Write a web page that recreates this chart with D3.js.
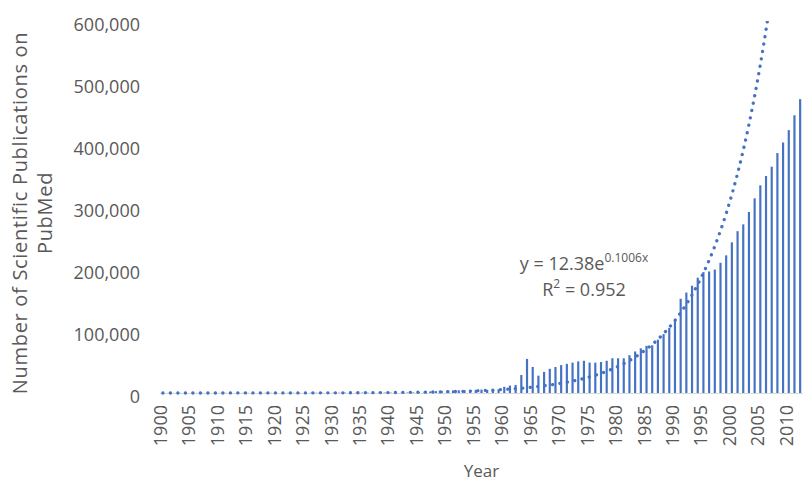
<!DOCTYPE html>
<html>
<head>
<meta charset="utf-8">
<script src="https://cdn.jsdelivr.net/npm/d3@7"></script>
<style>
  body { margin: 0; background: #fff; }
  text { font-family: "Open Sans", sans-serif; fill: #595959; }
</style>
</head>
<body>
<div class="chart"></div>
<script>
// years 1900..2012
var years = d3.range(1900, 2013);

// publications per year
var counts = [
  // 1900-1909
  120, 130, 140, 150, 160, 170, 180, 190, 200, 210,
  // 1910-1919
  220, 230, 240, 250, 240, 230, 220, 230, 240, 260,
  // 1920-1929
  280, 300, 320, 340, 360, 380, 400, 420, 440, 460,
  // 1930-1939
  480, 500, 520, 540, 560, 580, 600, 620, 640, 660,
  // 1940-1949
  680, 700, 750, 800, 900, 1500, 2000, 2500, 3000, 3500,
  // 1950-1959
  4000, 4200, 4500, 4800, 5000, 5200, 5500, 5000, 5500, 6000,
  // 1960-1969
  10000, 12000, 13000, 29000, 55000, 42000, 28000, 34000, 39000, 42000,
  // 1970-1979
  45000, 47000, 49000, 51000, 52000, 49000, 49000, 50000, 52000, 56000,
  // 1980-1989
  56000, 56000, 61000, 67000, 72000, 76000, 77000, 86000, 95000, 105000,
  // 1990-1999
  116000, 152000, 162000, 173000, 186000, 195000, 196000, 199000, 210000, 222000,
  // 2000-2009
  243000, 261000, 272000, 292000, 314000, 335000, 350000, 365000, 387000, 404000,
  // 2010-2012
  424000, 448000, 474000
];

var yTicks = [0, 100000, 200000, 300000, 400000, 500000, 600000];
var xTickYears = d3.range(1900, 2011, 5);

// exponential trendline shown on the chart: y = 12.38 e^(0.1006 x)
var trendA = 12.38;
var trendB = 0.1006;
var trendR2 = "0.952";

var svgWidth = 803;
var svgHeight = 482;
var margin = { top: 21, right: 0, bottom: 89, left: 160 };

var width = svgWidth - margin.left - margin.right;
var height = svgHeight - margin.top - margin.bottom;

var svg = d3.select(".chart")
    .append("svg")
    .attr("width", svgWidth)
    .attr("height", svgHeight);

var chart = svg.append("g")
    .attr("transform", "translate(" + margin.left + "," + margin.top + ")");

var xBand = d3.scaleBand()
    .domain(years)
    .range([0, width])
    .paddingInner(0.62)
    .paddingOuter(0.31);

var yLinearScale = d3.scaleLinear()
    .domain([0, 600000])
    .range([height, 0]);

svg.append("defs").append("clipPath")
    .attr("id", "plotClip")
    .append("rect")
    .attr("x", 0)
    .attr("y", 0)
    .attr("width", width)
    .attr("height", height + 4);

// bars
chart.selectAll("rect.bar")
    .data(years)
    .enter()
    .append("rect")
    .attr("class", "bar")
    .attr("x", function(d) { return xBand(d); })
    .attr("width", xBand.bandwidth())
    .attr("y", function(d, i) { return yLinearScale(counts[i]); })
    .attr("height", function(d, i) { return height - yLinearScale(counts[i]); })
    .attr("fill", "#4472C4");

// x axis line
chart.append("line")
    .attr("x1", 0)
    .attr("x2", width)
    .attr("y1", height + 0.5)
    .attr("y2", height + 0.5)
    .attr("stroke", "#D9D9D9")
    .attr("stroke-width", 1);

// trendline
var trend = years.map(function(yr, i) {
    return { year: yr, value: trendA * Math.exp(trendB * (i + 1)) };
});

var line = d3.line()
    .x(function(d) { return xBand(d.year) + xBand.bandwidth() / 2; })
    .y(function(d) { return yLinearScale(d.value); })
    .curve(d3.curveMonotoneX);

chart.append("path")
    .datum(trend.slice(0, 109))
    .attr("clip-path", "url(#plotClip)")
    .attr("d", line)
    .attr("fill", "none")
    .attr("stroke", "#4472C4")
    .attr("stroke-width", 3.3)
    .attr("stroke-linecap", "round")
    .attr("stroke-dasharray", "0.1,7.4");

// y axis labels
var leftAxis = d3.axisLeft(yLinearScale)
    .tickValues(yTicks)
    .tickFormat(d3.format(","))
    .tickSize(0)
    .tickPadding(20);

var yAxisG = chart.append("g").call(leftAxis);
yAxisG.select(".domain").remove();
yAxisG.selectAll("text")
    .attr("font-family", "Open Sans, sans-serif")
    .attr("font-size", 18)
    .attr("dy", "0.5em")
    .style("fill", "#595959");

// x axis labels
var xLabels = chart.append("g")
    .attr("transform", "translate(0," + height + ")");

xLabels.selectAll("text")
    .data(xTickYears)
    .enter()
    .append("text")
    .attr("transform", function(d) {
        var cx = xBand(d) + xBand.bandwidth() / 2 + 4;
        return "translate(" + cx + ",12) rotate(-90)";
    })
    .attr("text-anchor", "end")
    .attr("font-size", 18)
    .text(function(d) { return d; });

// axis titles
svg.append("text")
    .attr("transform", "translate(" + (margin.left + width / 2) + ",477)")
    .attr("text-anchor", "middle")
    .attr("font-size", 17)
    .text("Year");

var yTitle = svg.append("text")
    .attr("transform", "translate(27," + (margin.top + height / 2 + 6) + ") rotate(-90)")
    .attr("text-anchor", "middle")
    .attr("font-size", 20)
    .attr("letter-spacing", 0.7);

yTitle.append("tspan")
    .attr("x", 0)
    .attr("dy", 0)
    .text("Number of Scientific Publications on");

yTitle.append("tspan")
    .attr("x", 0)
    .attr("dy", 25)
    .text("PubMed");

// trendline equation
var eq = svg.append("text")
    .attr("x", 584)
    .attr("y", 270)
    .attr("text-anchor", "middle")
    .attr("font-size", 18);

eq.append("tspan").text("y = " + trendA + "e");
eq.append("tspan")
    .attr("font-size", 12)
    .attr("dy", -8)
    .text(trendB + "x");

var r2 = svg.append("text")
    .attr("x", 584)
    .attr("y", 296)
    .attr("text-anchor", "middle")
    .attr("font-size", 18);

r2.append("tspan").text("R");
r2.append("tspan")
    .attr("font-size", 12)
    .attr("dy", -8)
    .text("2");
r2.append("tspan")
    .attr("dy", 8)
    .text(" = " + trendR2);
</script>
</body>
</html>
